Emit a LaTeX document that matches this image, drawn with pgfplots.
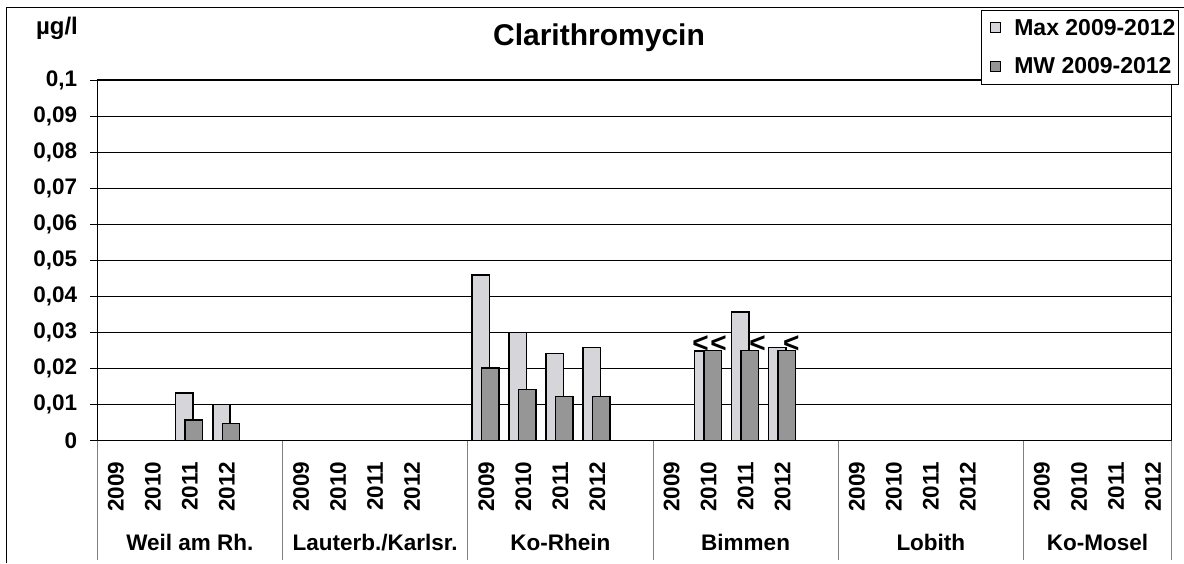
\documentclass[border=0pt]{standalone}
\usepackage{pgfplots}
\pgfplotsset{compat=1.18}
\usepackage{fontspec}
\setmainfont{Liberation Sans}
\definecolor{maxc}{RGB}{214,214,218}
\definecolor{mwc}{RGB}{150,150,150}
\newcommand{\tf}{\fontsize{22.5}{27}\selectfont\bfseries}
\begin{document}
\begin{tikzpicture}
\path[use as bounding box] (0,0) rectangle (1184pt,563pt);
\draw[line width=1pt] (6pt,0pt) -- (6pt,555.7pt) -- (1184pt,555.7pt);
\node[anchor=base, inner sep=0pt, font=\fontsize{30}{36}\selectfont\bfseries] at (599pt,517.5pt) {Clarithromycin};
\node[anchor=base, inner sep=0pt, font=\fontsize{24}{28}\selectfont\bfseries] at (57pt,528.5pt) {µg/l};
\begin{axis}[
  at={(97.3pt,122.3pt)}, anchor=south west,
  scale only axis, width=1074.4pt, height=360.7pt,
  xmin=-0.5, xmax=28.5, ymin=0, ymax=0.1,
  clip=false,
  axis line style={black, line width=1.1pt},
  ytick={0,0.01,0.02,0.03,0.04,0.05,0.06,0.07,0.08,0.09,0.1},
  scaled y ticks=false,
  ymajorgrids, major grid style={black, line width=0.8pt},
  tick pos=left, tick align=outside, major tick length=7pt,
  every major tick/.append style={black, line width=0.8pt},
  yticklabel style={font=\tf, inner sep=0pt, xshift=-13pt},
  /pgf/number format/use comma,
  /pgf/number format/fixed,
  /pgf/number format/precision=2,
  /pgf/number format/assume math mode=true,
  xtick={0,1,2,3,5,6,7,8,10,11,12,13,15,16,17,18,20,21,22,23,25,26,27,28},
  xticklabels={2009,2010,2011,2012,2009,2010,2011,2012,2009,2010,2011,2012,2009,2010,2011,2012,2009,2010,2011,2012,2009,2010,2011,2012},
  xtick style={draw=none},
  minor xtick={-0.5,0.5,1.5,2.5,3.5,4.5,5.5,6.5,7.5,8.5,9.5,10.5,11.5,12.5,13.5,14.5,15.5,16.5,17.5,18.5,19.5,20.5,21.5,22.5,23.5,24.5,25.5,26.5,27.5,28.5},
  minor tick length=70pt,
  every minor tick/.append style={gray, line width=0.8pt},
  xticklabel style={yshift=-14pt, rotate=90, anchor=east, font=\tf, inner sep=0pt},
  legend style={at={(1.00707,1.195)}, anchor=north east, draw=black, line width=1pt,
    fill=white, font=\fontsize{23}{27}\selectfont\bfseries, inner xsep=3.3pt, inner ysep=9pt, row sep=21pt, column sep=13pt,
    nodes={inner sep=0pt}},
  legend cell align=left,
]
\addplot[ybar, bar width=0.47, bar shift=-0.148, fill=maxc, draw=black, line width=1.5pt,
  legend image code/.code={\path (0pt,0pt); \draw[fill=maxc, draw=black, line width=1pt] (5.7pt,-5pt) rectangle (15.7pt,5pt);}]
  coordinates {(2,0.0132) (3,0.0100) (10,0.0459) (11,0.0300) (12,0.0242) (13,0.0258) (16,0.0248) (17,0.0357) (18,0.0258)};
\addlegendentry{Max 2009-2012}
\addplot[ybar, bar width=0.47, bar shift=0.108, fill=mwc, draw=black, line width=1.5pt,
  legend image code/.code={\path (0pt,0pt); \draw[fill=mwc, draw=black, line width=1pt] (5.7pt,-5pt) rectangle (15.7pt,5pt);}]
  coordinates {(2,0.0058) (3,0.0048) (10,0.0201) (11,0.0142) (12,0.0122) (13,0.0122) (16,0.0250) (17,0.0250) (18,0.0250)};
\addlegendentry{MW 2009-2012}
\addplot[draw=none, mark=none, forget plot, nodes near coords={\textless},
  every node near coord/.style={anchor=base, inner sep=0pt, yshift=-1.5pt, font=\fontsize{28}{30}\selectfont\bfseries}]
  coordinates {(15.785,0.025) (16.27,0.025) (17.32,0.025) (18.23,0.025)};
\pgfplotsinvokeforeach{-0.5,4.5,9.5,14.5,19.5,24.5,28.5}{
  \draw[gray, line width=0.8pt] (axis cs:#1,0) -- ++(0pt,-119pt);
}
\node[anchor=base, inner sep=0pt, font=\tf] at (axis cs:2,0) [yshift=-109.3pt] {Weil am Rh.};
\node[anchor=base, inner sep=0pt, font=\tf] at (axis cs:7,0) [yshift=-109.3pt] {Lauterb./Karlsr.};
\node[anchor=base, inner sep=0pt, font=\tf] at (axis cs:12,0) [yshift=-109.3pt] {Ko-Rhein};
\node[anchor=base, inner sep=0pt, font=\tf] at (axis cs:17,0) [yshift=-109.3pt] {Bimmen};
\node[anchor=base, inner sep=0pt, font=\tf] at (axis cs:22,0) [yshift=-109.3pt] {Lobith};
\node[anchor=base, inner sep=0pt, font=\tf] at (axis cs:26.5,0) [yshift=-109.3pt] {Ko-Mosel};
\end{axis}
\end{tikzpicture}
\end{document}
